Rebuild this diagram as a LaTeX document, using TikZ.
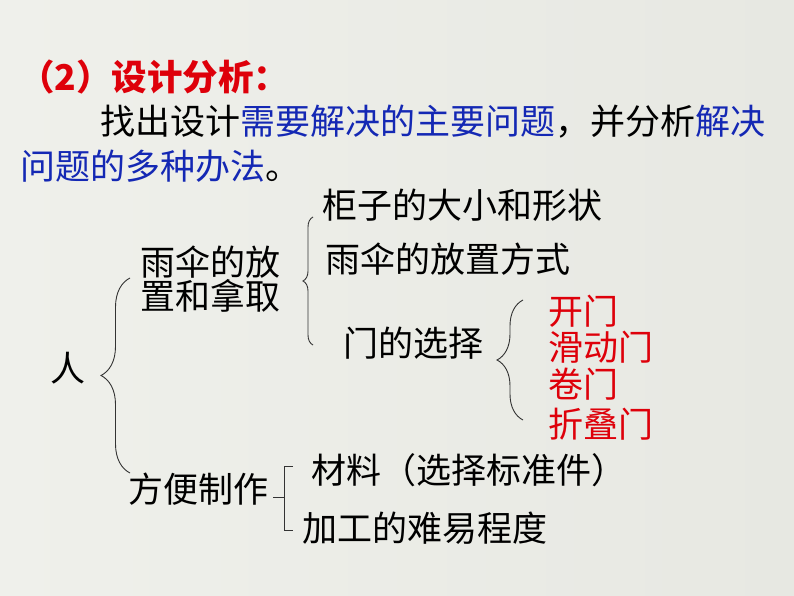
\documentclass[tikz,border=0pt]{standalone}
\usepackage{fontspec}
\setmainfont{Noto Sans CJK SC}
\usetikzlibrary{decorations.pathreplacing}

\definecolor{slidebgL}{RGB}{239,240,235}
\definecolor{slidebgR}{RGB}{231,232,226}
\definecolor{headred}{RGB}{222,0,10}
\definecolor{keyblue}{RGB}{20,40,180}

\begin{document}
\begin{tikzpicture}[
    x=1pt, y=-1pt,
    % --- Styles ---
    item node/.style={font=\fontsize{35}{34}\selectfont, anchor=west, inner sep=0pt, align=left},
    % Title line in red
    head node/.style={item node, font=\fontsize{35.5}{34}\selectfont\bfseries, text=headred},
    % Red door options
    choice node/.style={item node, text=headred},
    brace line/.style={draw=black!80, line width=0.9pt},
    curly/.style={brace line, decorate, decoration={brace, amplitude=#1}}
]

% background of the slide
\useasboundingbox (0,0) rectangle (794,596);
\shade[left color=slidebgL, right color=slidebgR] (0,0) rectangle (794,596);

%================TEXT================
\node[head node] (hdr) at (19,77) {（2）设计分析：};
\node[item node] (line1) at (100,122)
    {找出设计\textcolor{keyblue}{需要解决的主要问题}，并分析\textcolor{keyblue}{解决}};
\node[item node] (line2) at (20,166) {\textcolor{keyblue}{问题的多种办法}。};

% root
\node[item node] (ren) at (50,368) {人};

% first branch
\node[item node] (yusan) at (140,279) {雨伞的放\\置和拿取};
\node[item node] (guizi) at (322,205) {柜子的大小和形状};
\node[item node] (fangzhi) at (325,259) {雨伞的放置方式};
\node[item node] (men) at (343,343) {门的选择};

% door choices
\node[choice node] (kai) at (548,311) {开门};
\node[choice node] (huadong) at (548,347) {滑动门};
\node[choice node] (juan) at (548,384) {卷门};
\node[choice node] (zhedie) at (548,424) {折叠门};

% second branch
\node[item node] (fangbian) at (128,489) {方便制作};
\node[item node] (cailiao) at (311,470) {材料（选择标准件）};
\node[item node] (jiagong) at (302,528) {加工的难易程度};

%================BRACES================
\coordinate (renTop) at (130,278);
\coordinate (renBot) at (130,473);
\coordinate (yusanTop) at (313,217);
\coordinate (yusanBot) at (313,345);
\coordinate (menTop) at (523,300);
\coordinate (menBot) at (523,420);

\draw[curly=29pt] (renBot) -- (renTop);
\draw[curly=10pt] (yusanBot) -- (yusanTop);
\draw[curly=26pt] (menBot) -- (menTop);

% square bracket for the second branch
\coordinate (fbTop) at (293,466);
\coordinate (fbBot) at (293,530);
\coordinate (fbTip) at (273,497);
\draw[brace line] (fbTop) -- ++(-9,0) |- (fbBot);
\draw[brace line] (fbTip) -- ++(11,0);

\end{tikzpicture}
\end{document}
